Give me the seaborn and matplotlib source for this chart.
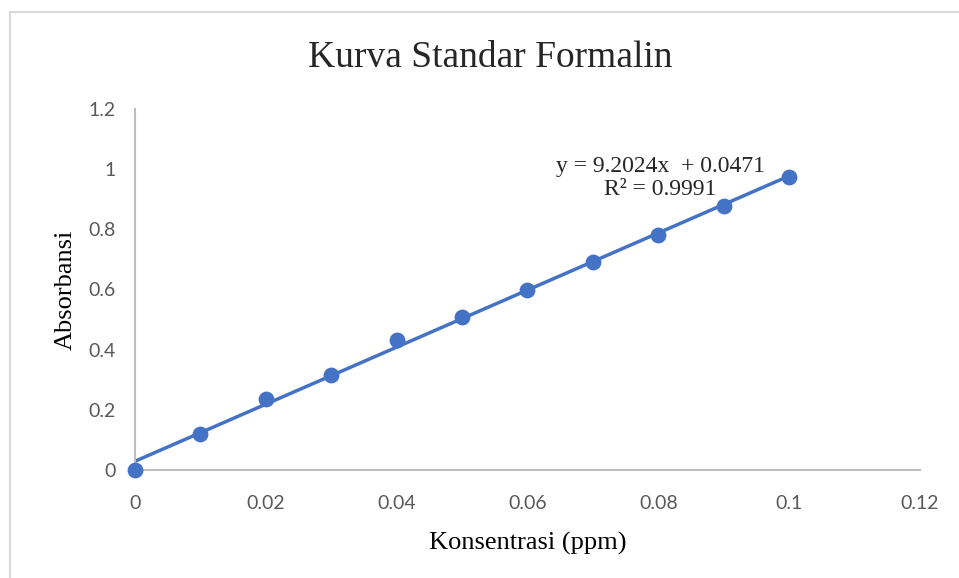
import matplotlib.pyplot as plt
import seaborn as sns
import numpy as np
import pandas as pd
from matplotlib.patches import Rectangle

# data
konsentrasi = [0.0, 0.01, 0.02, 0.03, 0.04, 0.05, 0.06, 0.07, 0.08, 0.09, 0.10]
absorbansi = [0.0, 0.121, 0.237, 0.317, 0.433, 0.508, 0.597, 0.693, 0.780, 0.877, 0.973]
slope = 9.2024
intercept = 0.0471
r2 = 0.9991

xticks = [0, 0.02, 0.04, 0.06, 0.08, 0.1, 0.12]
xtick_labels = ["0", "0.02", "0.04", "0.06", "0.08", "0.1", "0.12"]
yticks = [0, 0.2, 0.4, 0.6, 0.8, 1.0, 1.2]
ytick_labels = ["0", "0.2", "0.4", "0.6", "0.8", "1", "1.2"]

blue = "#4472C4"
grey_txt = "#595959"
serif = ["Liberation Serif", "DejaVu Serif"]

sns.set_style("white")
plt.rcParams["font.family"] = ["Lato", "DejaVu Sans"]

df = pd.DataFrame({"Konsentrasi (ppm)": konsentrasi, "Absorbansi": absorbansi})

fig = plt.figure(figsize=(9.59, 5.78), dpi=100)
ax = fig.add_axes([0.1408, 0.1869, 0.8185, 0.6245])

# chart area border
fig.patches.append(Rectangle((0.0105, -0.05), 1.1, 1.029, transform=fig.transFigure,
                             fill=False, edgecolor="#D9D9D9", linewidth=1.5))

# linear trendline through the points
sns.regplot(df, x="Konsentrasi (ppm)", y="Absorbansi", ax=ax, ci=None, truncate=True,
            scatter=False, color=blue, line_kws={"linewidth": 2.5})
sns.scatterplot(df, x="Konsentrasi (ppm)", y="Absorbansi", ax=ax, color=blue,
                s=130, edgecolor=blue, linewidth=0, zorder=3, clip_on=False)

ax.set_xlim(0, 0.12)
ax.set_ylim(0, 1.2)
ax.set_xticks(xticks)
ax.set_xticklabels(xtick_labels)
ax.set_yticks(yticks)
ax.set_yticklabels(ytick_labels)
ax.tick_params(axis="both", length=0, labelsize=14, colors=grey_txt)
ax.tick_params(axis="x", pad=18)
ax.tick_params(axis="y", pad=14)

for side in ["top", "right"]:
    ax.spines[side].set_visible(False)
for side in ["left", "bottom"]:
    ax.spines[side].set_color("#BFBFBF")
    ax.spines[side].set_linewidth(1.5)

ax.set_xlabel("Konsentrasi (ppm)", family=serif, fontsize=19, color="black", labelpad=14)
ax.set_ylabel("Absorbansi", family=serif, fontsize=19, color="black", labelpad=8)
fig.text(0.511, 0.9, "Kurva Standar Formalin", family=serif, fontsize=27,
         ha="center", va="center")

ax.text(0.0803, 0.97, f"y = {slope}x  + {intercept}\nR² = {r2}", family=serif,
        fontsize=17, ha="center", va="center", linespacing=1.1)

fig.savefig("out.png", dpi=100)
